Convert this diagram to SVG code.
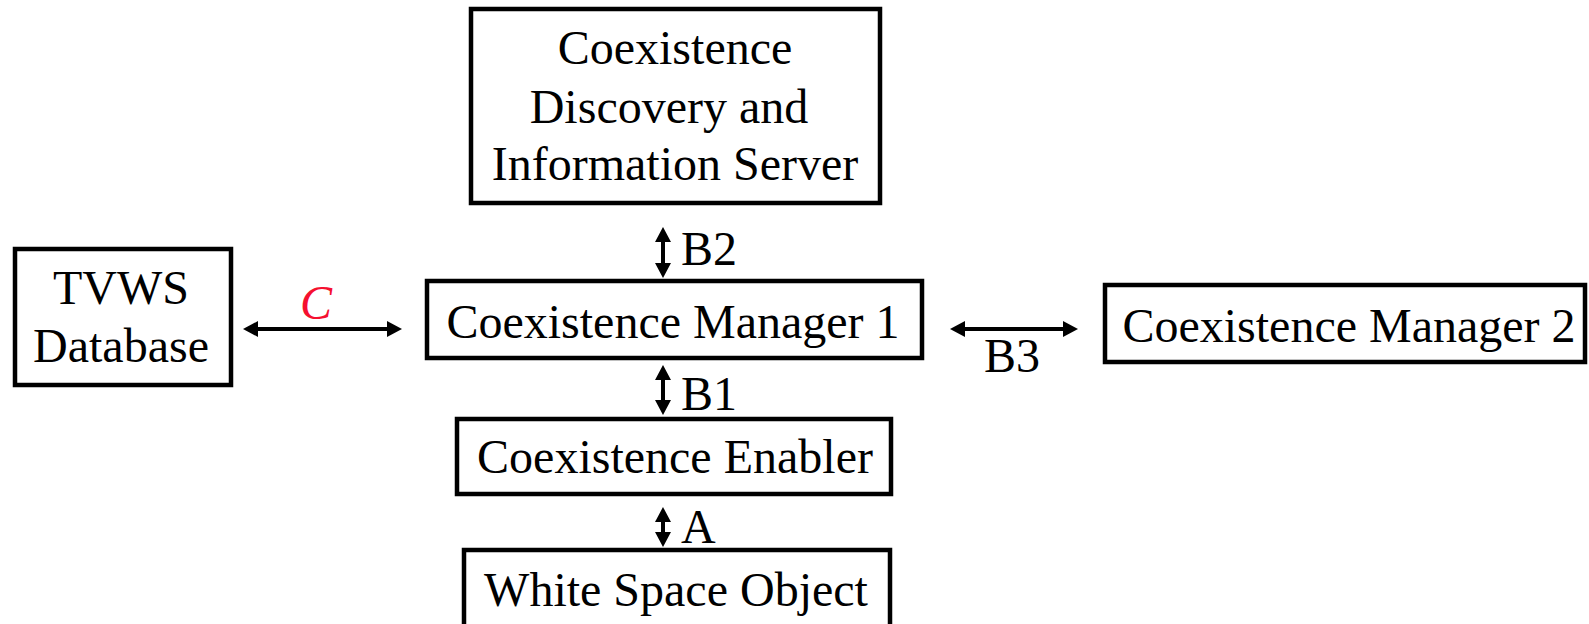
<svg xmlns="http://www.w3.org/2000/svg" width="1589" height="624" viewBox="0 0 1589 624">
  <style>
    .box { fill: #ffffff; stroke: #000000; stroke-width: 4.5; }
    .lbl { font-family: "Liberation Serif", "Times New Roman", serif; font-size: 48px; fill: #000000; }
    .mid { text-anchor: middle; }
    .conn { stroke: #000000; stroke-width: 4; fill: none; marker-start: url(#ah); marker-end: url(#ah); }
  </style>
  <defs>
    <marker id="ah" viewBox="0 0 15 16" refX="7" refY="8" markerWidth="15" markerHeight="16" markerUnits="userSpaceOnUse" orient="auto-start-reverse">
      <path d="M0,0 L15,8 L0,16 z" fill="#000000"/>
    </marker>
  </defs>
  <rect width="1589" height="624" fill="#ffffff"/>

  <g id="tvws-database">
    <rect class="box" x="15" y="249" width="216" height="136"/>
    <text class="lbl mid" x="121" y="304">TVWS</text>
    <text class="lbl mid" x="121" y="362">Database</text>
  </g>

  <g id="cdis">
    <rect class="box" x="471" y="9" width="409" height="194"/>
    <text class="lbl mid" x="675" y="64">Coexistence</text>
    <text class="lbl mid" x="669" y="123">Discovery and</text>
    <text class="lbl mid" x="675" y="180">Information Server</text>
  </g>

  <g id="coexistence-manager-1">
    <rect class="box" x="427" y="281" width="495" height="77"/>
    <text class="lbl mid" x="673" y="338">Coexistence Manager 1</text>
  </g>

  <g id="coexistence-manager-2">
    <rect class="box" x="1105" y="285" width="480" height="77"/>
    <text class="lbl mid" x="1349" y="342">Coexistence Manager 2</text>
  </g>

  <g id="coexistence-enabler">
    <rect class="box" x="457" y="419" width="434" height="75"/>
    <text class="lbl mid" x="675" y="473">Coexistence Enabler</text>
  </g>

  <g id="white-space-object">
    <rect class="box" x="464" y="550" width="426" height="90"/>
    <text class="lbl mid" x="676" y="606">White Space Object</text>
  </g>

  <g id="connectors">
    <line class="conn" x1="251" y1="329" x2="394" y2="329"/>
    <line class="conn" x1="958" y1="329" x2="1070" y2="329"/>
    <line class="conn" x1="663" y1="235" x2="663" y2="270"/>
    <line class="conn" x1="663" y1="373" x2="663" y2="407"/>
    <line class="conn" x1="663" y1="515" x2="663" y2="539"/>
    <text class="lbl mid" x="316" y="319" style="fill:#f5102f;font-style:italic">C</text>
    <text class="lbl mid" x="1012" y="372">B3</text>
    <text class="lbl" x="681" y="265">B2</text>
    <text class="lbl" x="681" y="410">B1</text>
    <text class="lbl" x="681" y="543">A</text>
  </g>
</svg>
